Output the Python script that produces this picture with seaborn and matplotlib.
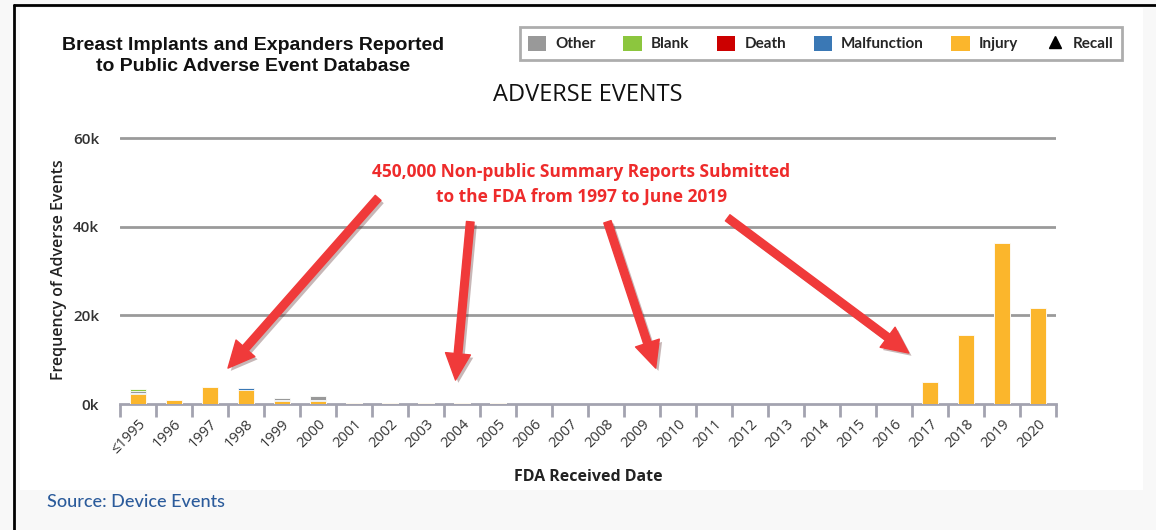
import numpy as np
import pandas as pd
import seaborn as sns
import matplotlib.pyplot as plt
from matplotlib.patches import Patch, Rectangle
from matplotlib.lines import Line2D
import matplotlib.patheffects as pe

# Adverse events per year (thousands)
years = ["≤1995", "1996", "1997", "1998", "1999", "2000", "2001", "2002", "2003",
         "2004", "2005", "2006", "2007", "2008", "2009", "2010", "2011", "2012",
         "2013", "2014", "2015", "2016", "2017", "2018", "2019", "2020"]
injury = [2.2, 0.9, 3.8, 3.2, 0.6, 0.6, 0.12, 0.12, 0.12, 0.12, 0.12, 0, 0, 0, 0, 0,
          0, 0, 0, 0, 0, 0, 4.9, 15.6, 36.4, 21.6]
malfunction = [0.3, 0, 0, 0.4, 0.3, 0.35, 0, 0, 0, 0, 0, 0, 0, 0, 0, 0,
               0, 0, 0, 0, 0, 0, 0, 0, 0, 0]
death = [0] * 26
other = [0.4, 0, 0, 0.1, 0.45, 0.9, 0, 0, 0, 0, 0, 0, 0, 0, 0, 0,
         0, 0, 0, 0, 0, 0, 0, 0, 0, 0]
blank = [0.5, 0, 0, 0, 0, 0, 0, 0, 0, 0, 0, 0, 0, 0, 0, 0,
         0, 0, 0, 0, 0, 0, 0, 0, 0, 0]

colors = {"Other": "#999999", "Blank": "#8CC63E", "Death": "#CC0000",
          "Malfunction": "#3A78B5", "Injury": "#FBB62C"}

df = pd.DataFrame({"year": years, "Injury": injury, "Malfunction": malfunction,
                   "Death": death, "Other": other, "Blank": blank})
# stacked bars drawn as cumulative heights, largest first
df["c_inj"] = df["Injury"] * 1000
df["c_mal"] = df["c_inj"] + df["Malfunction"] * 1000
df["c_dth"] = df["c_mal"] + df["Death"] * 1000
df["c_oth"] = df["c_dth"] + df["Other"] * 1000
df["c_blk"] = df["c_oth"] + df["Blank"] * 1000

sns.set_style("white")
plt.rcParams["font.family"] = ["Open Sans", "DejaVu Sans"]

fig = plt.figure(figsize=(11.56, 5.30), dpi=100, facecolor="#F8F8F8")
fig.patches.append(Rectangle((20 / 1156, 1 - 490 / 530), 1123 / 1156, 482 / 530,
                             transform=fig.transFigure, facecolor="white",
                             edgecolor="none", zorder=-2))
fig.lines.append(Line2D([14 / 1156, 14 / 1156], [0, 1 - 5 / 530], transform=fig.transFigure,
                        color="black", lw=2))
fig.lines.append(Line2D([14 / 1156, 1], [1 - 5 / 530, 1 - 5 / 530], transform=fig.transFigure,
                        color="black", lw=2))

ax = fig.add_axes([120 / 1156, 1 - 404 / 530, 936 / 1156, 268.2 / 530])
ax.set_facecolor("none")

for col, name in [("c_blk", "Blank"), ("c_oth", "Other"), ("c_dth", "Death"),
                  ("c_mal", "Malfunction"), ("c_inj", "Injury")]:
    sns.barplot(data=df, x="year", y=col, order=years, color=colors[name],
                width=0.45, saturation=1, edgecolor="white", linewidth=0.6,
                ax=ax, zorder=3)

ax.set_xlim(-0.5, 25.5)
ax.set_ylim(0, 60500)
ax.set_yticks([0, 20000, 40000, 60000])
ax.set_yticklabels(["0k", "20k", "40k", "60k"], fontsize=11, fontweight="semibold",
                   color="#333333")
for v in [20000, 40000, 60000]:
    ax.axhline(v, color="#9A9A9A", lw=2, zorder=1)

for s in ["top", "right", "left"]:
    ax.spines[s].set_visible(False)
ax.spines["bottom"].set_color("#A3A3B0")
ax.spines["bottom"].set_linewidth(2)
ax.spines["bottom"].set_zorder(2)

ax.set_xticks(range(len(years)))
ax.set_xticklabels(years, rotation=45, ha="right", rotation_mode="anchor",
                   fontsize=10.5, color="#333333")
ax.set_xticks(np.arange(-0.5, 26, 1), minor=True)
ax.tick_params(axis="x", which="minor", bottom=True, length=9, width=2,
               color="#A3A3B0", direction="out")
ax.tick_params(axis="x", which="major", bottom=False, length=0, pad=9)
ax.tick_params(axis="y", left=False, length=0, pad=15)

ax.set_xlabel("FDA Received Date", fontsize=11.5, fontweight="bold", color="#222222",
              labelpad=9)
ax.set_ylabel("Frequency of Adverse Events", fontsize=11.5, fontweight="semibold",
              color="#222222", labelpad=4)
ax.set_title("ADVERSE EVENTS", fontsize=17, fontweight="medium", color="#111111", pad=25)

# red annotation with arrows
ax.text(12.32, 49600, "450,000 Non-public Summary Reports Submitted\nto the FDA from 1997 to June 2019",
        ha="center", va="center", fontsize=12.5, fontweight="bold", color="#EE2B2B",
        linespacing=1.45, zorder=6)
arrows = [((6.67, 46500), (2.5, 8100)), ((9.23, 41100), (8.82, 5400)),
          ((13.04, 41100), (14.38, 8100)), ((16.38, 42000), (21.41, 11500))]
for tail, tip in arrows:
    ax.annotate("", xy=tip, xytext=tail,
                arrowprops=dict(arrowstyle="simple,head_length=1.9,head_width=1.8,tail_width=0.55",
                                color="#F03A3A", shrinkA=0, shrinkB=0,
                                path_effects=[pe.SimplePatchShadow(offset=(2, -2), alpha=0.3),
                                              pe.Normal()]),
                zorder=5)

fig.text(253 / 1156, 1 - 56 / 530,
         "Breast Implants and Expanders Reported\nto Public Adverse Event Database",
         ha="center", va="center", fontsize=14, fontweight="bold",
         family="Liberation Sans", color="#111111", linespacing=1.25)

handles = [Patch(facecolor=colors[k], edgecolor="none", label=k)
           for k in ["Other", "Blank", "Death", "Malfunction", "Injury"]]
handles.append(Line2D([], [], marker="^", color="black", linestyle="none",
                      markersize=9, label="Recall"))
leg = fig.legend(handles=handles, ncol=6, loc="center",
                 bbox_to_anchor=(821 / 1156, 1 - 43.5 / 530), frameon=True,
                 fancybox=False, handlelength=1.2, handleheight=1.2,
                 handletextpad=0.6, columnspacing=1.8, borderpad=0.55,
                 prop={"family": "Lato", "weight": "bold", "size": 11})
leg.get_frame().set_edgecolor("#999999")
leg.get_frame().set_linewidth(2)

fig.text(47 / 1156, 1 - 502 / 530, "Source: Device Events", ha="left", va="center",
         fontsize=13, fontweight="medium", color="#2B5B9B", family=["Lato", "DejaVu Sans"])

fig.savefig("out.png", dpi=100, facecolor=fig.get_facecolor())
